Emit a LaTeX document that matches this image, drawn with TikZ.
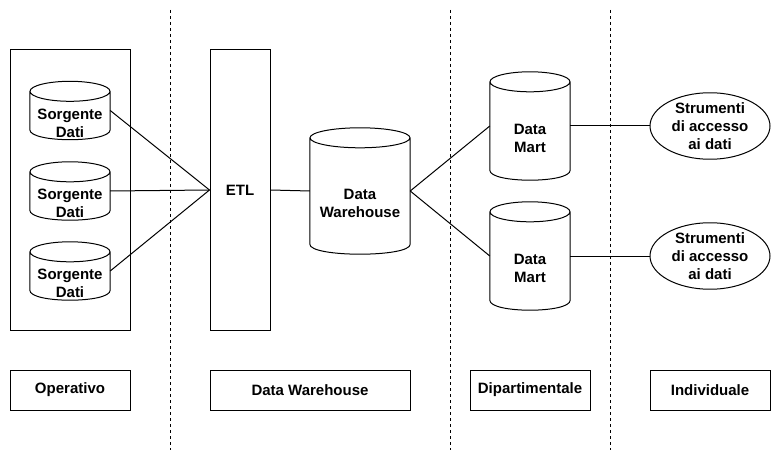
\documentclass[tikz,border=0pt]{standalone}
\usepackage{fontspec}
\setmainfont{Liberation Sans}
\usetikzlibrary{shapes.geometric, positioning}

\begin{document}
\begin{tikzpicture}[
    x=1pt, y=-1pt,
    font=\fontsize{15}{18}\selectfont\bfseries,
    box/.style={
        rectangle,
        draw,
        align=center,
        inner sep=0pt,
        line width=1pt
    },
    db/.style={
        rectangle,
        align=center,
        inner sep=0pt,
        minimum width=80pt,
        minimum height=108pt
    },
    tool/.style={
        ellipse,
        draw,
        align=center,
        inner sep=0pt,
        minimum width=120pt,
        minimum height=65pt,
        line width=1pt
    },
    link/.style={line width=1pt},
    sep/.style={line width=1pt, dash pattern=on 3pt off 3pt}
]
\useasboundingbox (0,0) rectangle (781,462);

% Operativo (db nodes sit 12.5 below the cylinder middle, like the text)
\node[box, minimum width=120pt, minimum height=280pt] (oper) at (70,190) {};
\node[db, minimum height=58pt] (src1) at (70,123) {Sorgente\\Dati};
\node[db, minimum height=58pt] (src2) at (70,203.5) {Sorgente\\Dati};
\node[db, minimum height=58pt] (src3) at (70,283.5) {Sorgente\\Dati};

% Data Warehouse
\node[box, minimum width=60pt, minimum height=280pt] (etl) at (240,190) {ETL};
\node[db, minimum width=100pt, minimum height=126pt] (dw) at (360,203.5) {Data\\Warehouse};

% Dipartimentale
\node[db] (dm1) at (530,138.5) {Data\\Mart};
\node[db] (dm2) at (530,268.5) {Data\\Mart};

% Individuale
\node[tool] (tool1) at (710,126) {Strumenti\\di accesso\\ai dati};
\node[tool] (tool2) at (710,256) {Strumenti\\di accesso\\ai dati};

% Labels
\node[box, minimum width=120pt, minimum height=40pt] (lop) at (70,390) {Operativo};
\node[box, minimum width=200pt, minimum height=40pt] (ldw) at (310,390) {Data Warehouse};
\node[box, minimum width=120pt, minimum height=40pt] (ldip) at (530,390) {Dipartimentale};
\node[box, minimum width=120pt, minimum height=40pt] (lind) at (710,390) {Individuale};

% Cylinder outlines
\foreach \c/\r in {src1/40, src2/40, src3/40, dw/50, dm1/40, dm2/40} {
    \draw[link]
        ([yshift=2.5pt]\c.north) ellipse [x radius=\r pt, y radius=10pt]
        ([yshift=2.5pt]\c.north west) -- ([yshift=22.5pt]\c.south west)
        .. controls ([yshift=9.17pt]\c.south west) and ([yshift=9.17pt]\c.south east) .. ([yshift=22.5pt]\c.south east)
        -- ([yshift=2.5pt]\c.north east);
}

% Separators
\foreach \x/\n in {170/a, 450/b, 610/c} {
    \coordinate (\n top) at (\x,10);
    \coordinate (\n bot) at (\x,450);
    \draw[sep] (\n top) -- (\n bot);
}

% Links
\draw[link] ([yshift=12.5pt]src1.east) -- (etl.west);
\draw[link] ([yshift=12.5pt]src2.east) -- (etl.west);
\draw[link] ([yshift=12.5pt]src3.east) -- (etl.west);
\draw[link] (etl.east) -- ([yshift=12.5pt]dw.west);
\draw[link] ([yshift=12.5pt]dw.east) -- ([yshift=12.5pt]dm1.west);
\draw[link] ([yshift=12.5pt]dw.east) -- ([yshift=12.5pt]dm2.west);
\draw[link] ([yshift=12.5pt]dm1.east) -- (tool1.west);
\draw[link] ([yshift=12.5pt]dm2.east) -- (tool2.west);

\end{tikzpicture}
\end{document}
